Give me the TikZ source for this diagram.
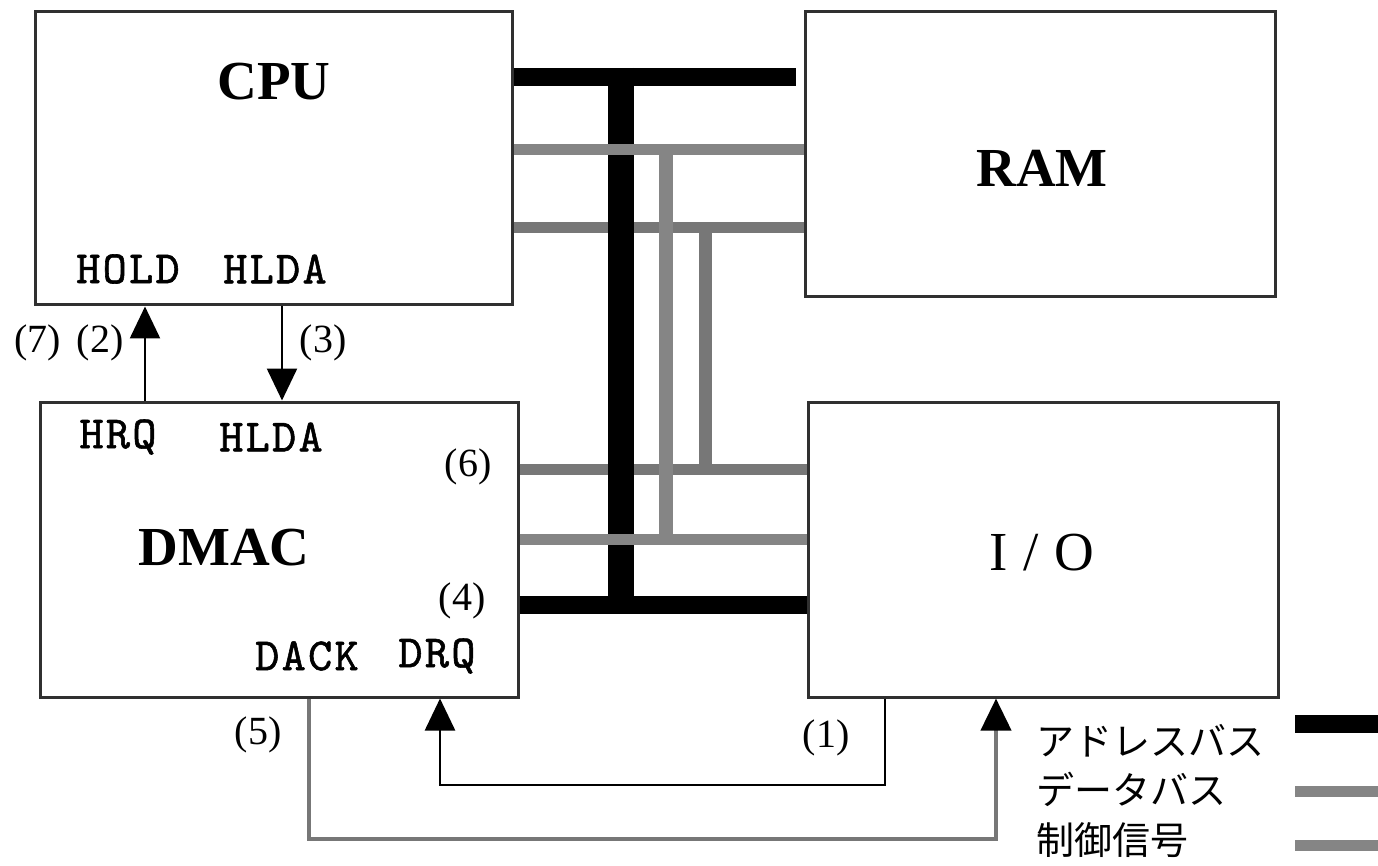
\documentclass[tikz,border=0pt]{standalone}
\usepackage{fontspec}
\setmainfont{Liberation Serif}
\newfontfamily\cjk{Noto Sans CJK JP}
\newfontfamily\sigfont{lmmono10-regular.otf}[FakeBold=1.2,LetterSpace=5]
\usetikzlibrary{arrows.meta}
\definecolor{databus}{HTML}{858585}
\definecolor{ctrlbus}{HTML}{777777}
\definecolor{frame}{HTML}{303030}
\begin{document}
\begin{tikzpicture}[x=1pt,y=-1pt,
  box/.style={draw=frame, line width=3pt, inner sep=0pt},
  title/.style={font=\fontsize{55}{60}\selectfont\bfseries, inner sep=0pt},
  iolabel/.style={font=\fontsize{55}{60}\selectfont, inner sep=0pt},
  sig/.style={font=\sigfont\fontsize{46}{50}\selectfont, inner sep=0pt},
  num/.style={font=\fontsize{40}{44}\selectfont, inner sep=0pt},
  legtext/.style={font=\cjk\fontsize{38}{40}\selectfont, inner sep=0pt, anchor=west},
  abus/.style={line width=18pt, black},
  atrunk/.style={line width=26pt, black},
  dbus/.style={line width=11pt, databus},
  dtrunk/.style={line width=14pt, databus},
  cbus/.style={line width=11pt, ctrlbus},
  ctrunk/.style={line width=13pt, ctrlbus},
  tip/.style={-{Triangle[width=30pt,length=32pt,color=black]}},
  sigline/.style={line width=2.5pt, black, tip},
  ackline/.style={line width=4pt, ctrlbus, tip}
]
\useasboundingbox (0,0) rectangle (1378,866);
\fill[white] (0,0) rectangle (1378,866);

% boxes
\node[box, minimum width=477pt, minimum height=293pt] (cpu) at (273.5,158.5) {};
\node[box, minimum width=470pt, minimum height=285pt] (ram) at (1040,154.5) {};
\node[box, minimum width=478pt, minimum height=295pt] (dmac) at (279,549.5) {};
\node[box, minimum width=470pt, minimum height=295pt] (io) at (1043,549.5) {};

% box titles
\node[title] (cput) at (274,82) {CPU};
\node[title] (ramt) at (1042,168) {RAM};
\node[title] (dmact) at (224,548) {DMAC};
\node[iolabel] (iot) at (1042,553) {I\kern16pt/\kern16pt O};

% signal names
\node[sig] (hold) at (128,269) {HOLD};
\node[sig] (hldac) at (275,269) {HLDA};
\node[sig] (hrq) at (118,437) {HRQ};
\node[sig] (hldad) at (271,437) {HLDA};
\node[sig] (dack) at (307,656) {DACK};
\node[sig] (drq) at (437,656) {DRQ};

% step numbers
\node[num] (n7) at (38,343) {(7)};
\node[num] (n2) at (100,343) {(2)};
\node[num] (n3) at (323,343) {(3)};
\node[num] (n6) at (468,467) {(6)};
\node[num] (n4) at (462,601) {(4)};
\node[num] (n5) at (258,735) {(5)};
\node[num] (n1) at (826,738) {(1)};

% bus trunk coordinates
\coordinate (atop) at (621,68);
\coordinate (abot) at (621,614);
\coordinate (dtop) at (666,150);
\coordinate (dbot) at (666,539);
\coordinate (ctop) at (705,228);
\coordinate (cbot) at (705,469);

% control bus
\draw[cbus] (cpu.east |- ctop) -- (ram.west |- ctop);
\draw[cbus] (dmac.east |- cbot) -- (io.west |- cbot);
\draw[ctrunk] (ctop) -- (cbot);
% address bus
\draw[abus] (cpu.east |- 0,77) -- ([xshift=-8pt]ram.west |- 0,77);
\draw[abus] (dmac.east |- 0,605) -- (io.west |- 0,605);
\draw[atrunk] (atop) -- (abot);
% data bus
\draw[dbus] (cpu.east |- dtop) -- (ram.west |- dtop);
\draw[dbus] (dmac.east |- dbot) -- (io.west |- dbot);
\draw[dtrunk] (dtop) -- (dbot);

% handshake arrows
\draw[sigline] (dmac.north -| 145,0) -- (cpu.south -| 145,0);
\draw[sigline] (cpu.south -| 282,0) -- (dmac.north -| 282,0);

% DRQ loop from I/O
\draw[sigline] (io.south -| 885,0) -- (885,785) -- (440,785) -- (dmac.south -| 440,0);
% DACK loop to I/O
\draw[ackline] (dmac.south -| 309,0) -- (309,839) -- (996,839) -- (io.south -| 996,0);

% legend
\node[legtext] (la) at (1036,741) {アドレスバス};
\node[legtext] (ld) at (1036,789) {データバス};
\node[legtext] (lc) at (1036,840) {制御信号};
\coordinate (la1) at (1295,724);
\coordinate (la2) at (1378,724);
\coordinate (ld1) at (1295,791);
\coordinate (ld2) at (1378,791);
\coordinate (lc1) at (1295,845);
\coordinate (lc2) at (1378,845);
\draw[abus] (la1) -- (la2);
\draw[dbus] (ld1) -- (ld2);
\draw[dbus] (lc1) -- (lc2);
\end{tikzpicture}
\end{document}
